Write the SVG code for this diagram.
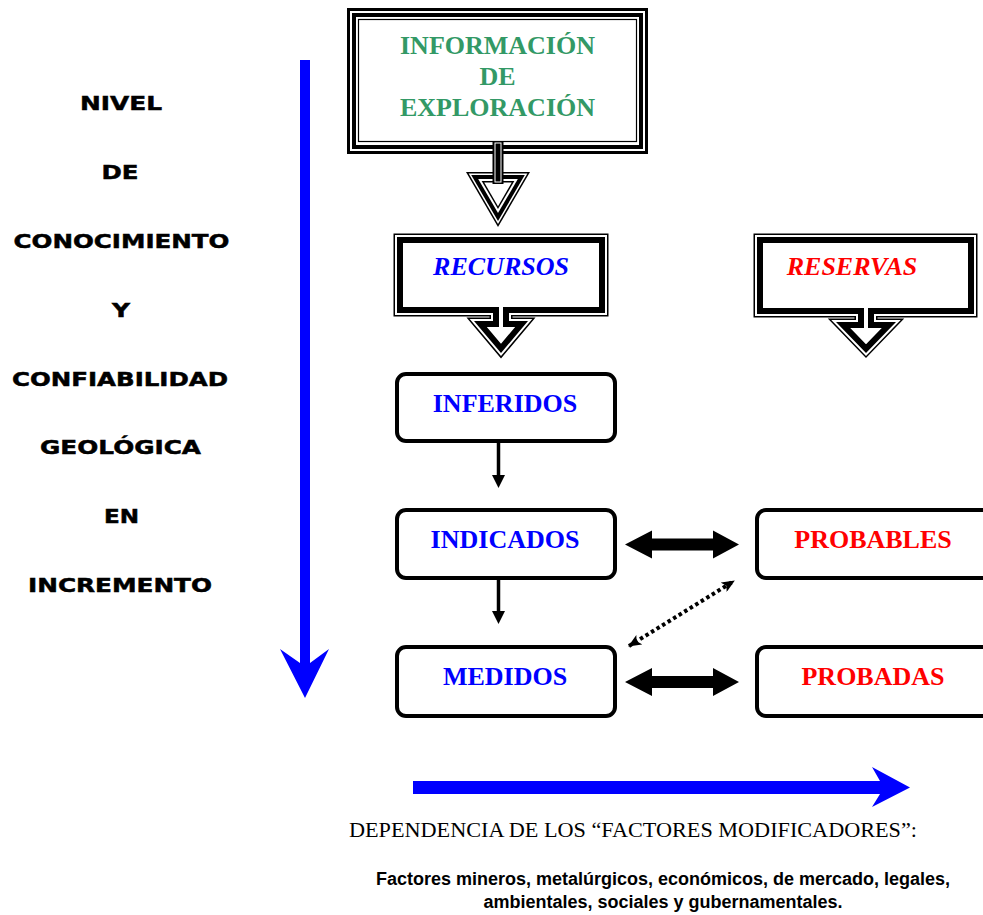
<svg xmlns="http://www.w3.org/2000/svg" xmlns:xlink="http://www.w3.org/1999/xlink" width="983" height="915" viewBox="0 0 983 915">
<style>
.node-t{font-family:"Liberation Serif","Times New Roman",serif;font-weight:bold;font-size:26px;text-anchor:middle}
.green{fill:#339966}
.blue{fill:#0000ff}
.red{fill:#ff0000}
.side{font-family:"DejaVu Sans","Liberation Sans",sans-serif;font-weight:bold;font-size:20px;text-anchor:middle;fill:#000;stroke:#000;stroke-width:0.5}
.rbox{fill:#fff;stroke:#000;stroke-width:4}
.foot{font-family:"Liberation Sans",Arial,sans-serif;font-weight:bold;font-size:18px;text-anchor:middle;fill:#000}
</style>
<defs>
<path id="recP" d="M397,237 H605 V313 H509 V321 H528 L501,353 L474,321 H493 V313 H397 Z"/>
<clipPath id="recClip"><use xlink:href="#recP"/></clipPath>
<path id="resP" d="M757,237 H974 V314 H874 V322 H896 L866,353 L836,322 H858 V314 H757 Z"/>
<clipPath id="resClip"><use xlink:href="#resP"/></clipPath>
<polygon id="tri" points="-32,-18.4 32,-18.4 0,36.6"/>
<marker id="dh" markerUnits="userSpaceOnUse" markerWidth="13" markerHeight="11" refX="12" refY="5.5" orient="auto-start-reverse" viewBox="0 0 13 11">
<path d="M0,0 L13,5.5 L0,11 L3,5.5 Z" fill="#000"/>
</marker>
</defs>

<g id="info">
<rect x="348.5" y="9.5" width="298" height="143" fill="#fff" stroke="#000" stroke-width="3"/>
<rect x="354" y="15" width="287" height="132" fill="none" stroke="#000" stroke-width="4"/>
<rect x="358.5" y="19.5" width="278" height="122" fill="none" stroke="#000" stroke-width="1.2"/>
<g transform="translate(498,190.4)">
<use xlink:href="#tri" fill="#000"/>
<use xlink:href="#tri" fill="#fff" transform="scale(0.918)"/>
<use xlink:href="#tri" fill="#000" transform="scale(0.837)"/>
<use xlink:href="#tri" fill="#fff" transform="scale(0.62)"/>
<use xlink:href="#tri" fill="#000" transform="scale(0.511)"/>
<use xlink:href="#tri" fill="#fff" transform="scale(0.43)"/>
</g>
<rect x="492.5" y="141" width="11" height="43" fill="#000"/>
<rect x="495" y="143" width="6" height="39" fill="none" stroke="#fff" stroke-width="1"/>
<text class="node-t green" x="497.5" y="54">INFORMACIÓN</text>
<text class="node-t green" x="497.5" y="85">DE</text>
<text class="node-t green" x="497.5" y="116">EXPLORACIÓN</text>
</g>

<g id="recursos">
<use xlink:href="#recP" fill="none" stroke="#000" stroke-width="7"/>
<use xlink:href="#recP" fill="#fff" stroke="#fff" stroke-width="4"/>
<use xlink:href="#recP" fill="none" stroke="#000" stroke-width="12" clip-path="url(#recClip)"/>
<text class="node-t blue" x="501" y="275" font-style="italic">RECURSOS</text>
</g>

<g id="reservas">
<use xlink:href="#resP" fill="none" stroke="#000" stroke-width="7"/>
<use xlink:href="#resP" fill="#fff" stroke="#fff" stroke-width="4"/>
<use xlink:href="#resP" fill="none" stroke="#000" stroke-width="12" clip-path="url(#resClip)"/>
<text class="node-t red" x="852" y="275" font-style="italic">RESERVAS</text>
</g>

<g id="inferidos">
<rect class="rbox" x="397" y="374" width="218" height="67" rx="9"/>
<text class="node-t blue" x="505" y="412">INFERIDOS</text>
</g>
<g id="indicados">
<rect class="rbox" x="397" y="510" width="218" height="68" rx="9"/>
<text class="node-t blue" x="505" y="548">INDICADOS</text>
</g>
<g id="medidos">
<rect class="rbox" x="397" y="647" width="218" height="69" rx="9"/>
<text class="node-t blue" x="505" y="685">MEDIDOS</text>
</g>
<g id="probables">
<rect class="rbox" x="757" y="510" width="234" height="68" rx="9"/>
<text class="node-t red" x="873" y="548">PROBABLES</text>
</g>
<g id="probadas">
<rect class="rbox" x="757" y="647" width="234" height="69" rx="9"/>
<text class="node-t red" x="873" y="685">PROBADAS</text>
</g>

<g id="connectors">
<line x1="498.5" y1="443" x2="498.5" y2="477" stroke="#000" stroke-width="3.5"/>
<polygon points="492,475 505,475 498.5,488" fill="#000"/>
<line x1="498.5" y1="580" x2="498.5" y2="613" stroke="#000" stroke-width="3.5"/>
<polygon points="492,611 505,611 498.5,624" fill="#000"/>
<polygon points="625,544.5 652,530.5 652,538.5 713,538.5 713,530.5 739,544.5 713,558.5 713,550.5 652,550.5 652,558.5" fill="#000"/>
<polygon points="625,682 652,668 652,676 713,676 713,668 739,682 713,696 713,688 652,688 652,696" fill="#000"/>
<line x1="629" y1="646" x2="734" y2="581" stroke="#000" stroke-width="4" stroke-dasharray="3.5 3" marker-start="url(#dh)" marker-end="url(#dh)"/>
</g>

<g id="axes">
<polygon points="300,60 310,60 310,663 329,649 305,698 280,649 300,663" fill="#0000ff"/>
<polygon points="413,781 880,781 872,767 910,787.5 872,807 880,794 413,794" fill="#0000ff"/>
</g>

<g id="side-label">
<text class="side" x="121" y="110" textLength="82" lengthAdjust="spacingAndGlyphs">NIVEL</text>
<text class="side" x="120" y="179" textLength="37" lengthAdjust="spacingAndGlyphs">DE</text>
<text class="side" x="121.5" y="248" textLength="216" lengthAdjust="spacingAndGlyphs">CONOCIMIENTO</text>
<text class="side" x="121" y="317" textLength="18" lengthAdjust="spacingAndGlyphs">Y</text>
<text class="side" x="120" y="386" textLength="216" lengthAdjust="spacingAndGlyphs">CONFIABILIDAD</text>
<text class="side" x="120.5" y="454" textLength="161" lengthAdjust="spacingAndGlyphs">GEOLÓGICA</text>
<text class="side" x="121.5" y="523" textLength="35" lengthAdjust="spacingAndGlyphs">EN</text>
<text class="side" x="120" y="592" textLength="184" lengthAdjust="spacingAndGlyphs">INCREMENTO</text>
</g>

<g id="footer">
<text x="633" y="837" font-family="Liberation Serif,'Times New Roman',serif" font-size="21" text-anchor="middle" fill="#000" textLength="568" lengthAdjust="spacingAndGlyphs">DEPENDENCIA DE LOS “FACTORES MODIFICADORES”:</text>
<text class="foot" x="663" y="885">Factores mineros, metalúrgicos, económicos, de mercado, legales,</text>
<text class="foot" x="663" y="908">ambientales, sociales y gubernamentales.</text>
</g>
</svg>
